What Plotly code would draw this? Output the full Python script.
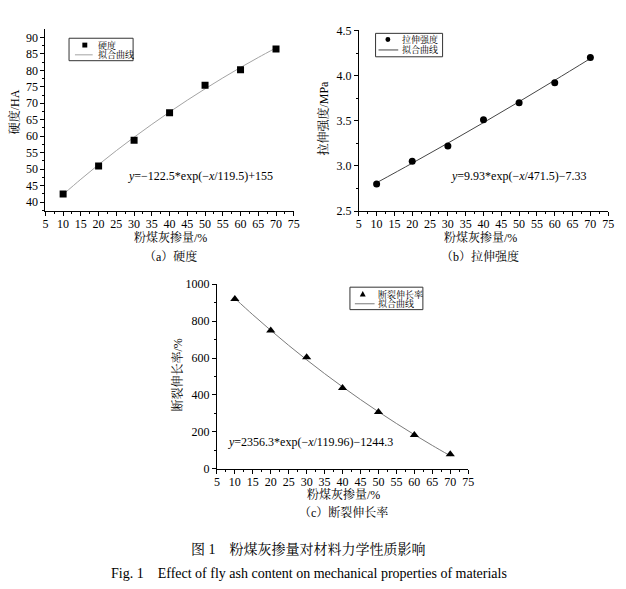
import plotly.graph_objects as go

# ---- data ----
ash = [10, 20, 30, 40, 50, 60, 70]
hardness = [42.5, 51.0, 58.8, 67.1, 75.5, 80.2, 86.5]
tensile = [2.80, 3.05, 3.22, 3.51, 3.70, 3.92, 4.20]
elongation = [920, 750, 605, 438, 308, 183, 78]

fit_x = [10, 15, 20, 25, 30, 35, 40, 45, 50, 55, 60, 65, 70]
fit_hardness = [42.33, 46.95, 51.38, 55.63, 59.70, 63.60, 67.35, 70.94, 74.38, 77.69, 80.86, 83.89, 86.81]
fit_x_b = [10, 20, 30, 40, 50, 60, 70]
fit_tensile = [2.813, 3.030, 3.252, 3.479, 3.711, 3.948, 4.189]
fit_elongation = [923.5, 835.0, 750.2, 668.7, 590.6, 515.7, 443.9, 375.0, 308.9, 245.5, 184.6, 126.3, 70.3]

x_ticks = [5, 10, 15, 20, 25, 30, 35, 40, 45, 50, 55, 60, 65, 70, 75]

FONT = "Liberation Serif, Noto Serif CJK SC, Noto Sans CJK SC, serif"
W, H = 626, 589

FIT_COLORS = ["#a3a3a3", "#454545", "#7a7a7a"]

fig = go.Figure()

# (a)
fig.add_trace(go.Scatter(x=fit_x, y=fit_hardness, mode="lines", name="拟合曲线",
                         line=dict(color=FIT_COLORS[0], width=1, shape="spline"),
                         xaxis="x", yaxis="y"))
fig.add_trace(go.Scatter(x=ash, y=hardness, mode="markers", name="硬度",
                         marker=dict(symbol="square", size=7, color="black"),
                         xaxis="x", yaxis="y"))
# (b)
fig.add_trace(go.Scatter(x=fit_x_b, y=fit_tensile, mode="lines", name="拟合曲线",
                         line=dict(color=FIT_COLORS[1], width=1, shape="spline"),
                         xaxis="x2", yaxis="y2"))
fig.add_trace(go.Scatter(x=ash, y=tensile, mode="markers", name="拉伸强度",
                         marker=dict(symbol="circle", size=7, color="black"),
                         xaxis="x2", yaxis="y2"))
# (c)
fig.add_trace(go.Scatter(x=fit_x, y=fit_elongation, mode="lines", name="拟合曲线",
                         line=dict(color=FIT_COLORS[2], width=1, shape="spline"),
                         xaxis="x3", yaxis="y3"))
fig.add_trace(go.Scatter(x=ash, y=elongation, mode="markers", name="断裂伸长率",
                         marker=dict(symbol="triangle-up", size=8, color="black"),
                         xaxis="x3", yaxis="y3"))


def px_x(p):
    return p / W


def px_y(p):
    return 1 - p / H


def axis_common(**kw):
    d = dict(showline=True, linecolor="black", linewidth=1, showgrid=False, zeroline=False,
             ticks="outside", ticklen=4, tickwidth=1, tickcolor="black",
             tickfont=dict(family=FONT, size=12, color="black"), mirror=False)
    d.update(kw)
    return d


xa = dict(range=[5, 75], tickvals=x_ticks, ticklabelstandoff=-2,
          minor=dict(ticks="outside", ticklen=2, dtick=2.5, tick0=5, tickcolor="black"))

fig.update_layout(
    width=W, height=H, margin=dict(l=0, r=0, t=0, b=0),
    paper_bgcolor="white", plot_bgcolor="white",
    font=dict(family=FONT, color="black"),
    showlegend=False,
    xaxis=axis_common(domain=[px_x(43), px_x(295)], anchor="y", **xa),
    yaxis=axis_common(domain=[px_y(209), px_y(23)], anchor="x", range=[37.3, 92.4],
                      dtick=5, tick0=40,
                      minor=dict(ticks="outside", ticklen=2, dtick=2.5, tick0=40, tickcolor="black")),
    xaxis2=axis_common(domain=[px_x(361), px_x(614)], anchor="y2", **xa),
    yaxis2=axis_common(domain=[px_y(209), px_y(24)], anchor="x2", range=[2.5, 4.5],
                       dtick=0.5, tick0=2.5, tickformat=".1f",
                       minor=dict(ticks="outside", ticklen=2, dtick=0.25, tick0=2.5, tickcolor="black")),
    xaxis3=axis_common(domain=[px_x(217), px_x(472)], anchor="y3", **xa),
    yaxis3=axis_common(domain=[px_y(473), px_y(284)], anchor="x3", range=[0, 1000],
                       dtick=200, tick0=0,
                       minor=dict(ticks="outside", ticklen=2, dtick=100, tick0=0, tickcolor="black")),
)

ann = []
shapes = []


def add_text(text, x, y, size=12, angle=0, xanchor="center"):
    ann.append(dict(text=text, x=px_x(x), y=px_y(y), xref="paper", yref="paper",
                    showarrow=False, textangle=angle, xanchor=xanchor, yanchor="middle",
                    font=dict(family=FONT, size=size, color="black")))


def add_legend(box, row1_y, row2_y, marker_x, line_x0, line_x1, text_x, label1, symbol, line_color):
    x0, y0, x1, y1 = box
    shapes.append(dict(type="rect", xref="paper", yref="paper",
                       x0=px_x(x0), x1=px_x(x1), y0=px_y(y1), y1=px_y(y0),
                       line=dict(color="#333333", width=1), fillcolor="white", layer="above"))
    r = 2.5
    if symbol == "square":
        shapes.append(dict(type="rect", xref="paper", yref="paper",
                           x0=px_x(marker_x - r), x1=px_x(marker_x + r),
                           y0=px_y(row1_y + r), y1=px_y(row1_y - r),
                           line=dict(width=0), fillcolor="black", layer="above"))
    elif symbol == "circle":
        shapes.append(dict(type="circle", xref="paper", yref="paper",
                           x0=px_x(marker_x - r), x1=px_x(marker_x + r),
                           y0=px_y(row1_y + r), y1=px_y(row1_y - r),
                           line=dict(width=0), fillcolor="black", layer="above"))
    else:
        path = "M {} {} L {} {} L {} {} Z".format(
            px_x(marker_x - 3), px_y(row1_y + 2.5),
            px_x(marker_x + 3), px_y(row1_y + 2.5),
            px_x(marker_x), px_y(row1_y - 3))
        shapes.append(dict(type="path", xref="paper", yref="paper", path=path,
                           line=dict(width=0), fillcolor="black", layer="above"))
    shapes.append(dict(type="line", xref="paper", yref="paper",
                       x0=px_x(line_x0), x1=px_x(line_x1), y0=px_y(row2_y), y1=px_y(row2_y),
                       line=dict(color=line_color, width=1), layer="above"))
    add_text(label1, text_x, row1_y, size=9, xanchor="left")
    add_text("拟合曲线", text_x, row2_y, size=9, xanchor="left")


add_legend((67, 32, 132, 55), 39, 49, 83, 73, 91, 94, "硬度", "square", FIT_COLORS[0])
add_legend((378, 27, 446, 51), 33.3, 44, 390.5, 381, 401, 403, "拉伸强度", "circle", FIT_COLORS[1])
add_legend((352, 287, 426, 310), 294, 304, 365, 357, 377, 378, "断裂伸长率", "triangle", FIT_COLORS[2])

# axis titles
add_text("硬度/HA", 12, 107, angle=-90)
add_text("粉煤灰掺量/%", 170, 236.5)
add_text("（a）硬度", 170, 256)

add_text("拉伸强度/MPa", 325, 114, angle=-90)
add_text("粉煤灰掺量/%", 484, 236.5)
add_text("（b）拉伸强度", 484, 256)

add_text("断裂伸长率/%", 177, 377, angle=-90)
add_text("粉煤灰掺量/%", 345, 499.5)
add_text("（c）断裂伸长率", 345, 518)

# equations
add_text("<i>y</i>=−122.5*exp(−<i>x</i>/119.5)+155", 125, 173, xanchor="left")
add_text("<i>y</i>=9.93*exp(−<i>x</i>/471.5)−7.33", 453, 173, xanchor="left")
add_text("<i>y</i>=2356.3*exp(−<i>x</i>/119.96)−1244.3", 226, 446, xanchor="left")

# figure captions
add_text("图 1　粉煤灰掺量对材料力学性质影响", 310, 555, size=14)
add_text("Fig. 1　Effect of fly ash content on mechanical properties of materials", 310, 580, size=14)

fig.update_layout(annotations=ann, shapes=shapes)

fig.write_html("out.html", config={"displayModeBar": False},
               post_script="document.body.style.margin='0';document.body.style.overflow='hidden';")
